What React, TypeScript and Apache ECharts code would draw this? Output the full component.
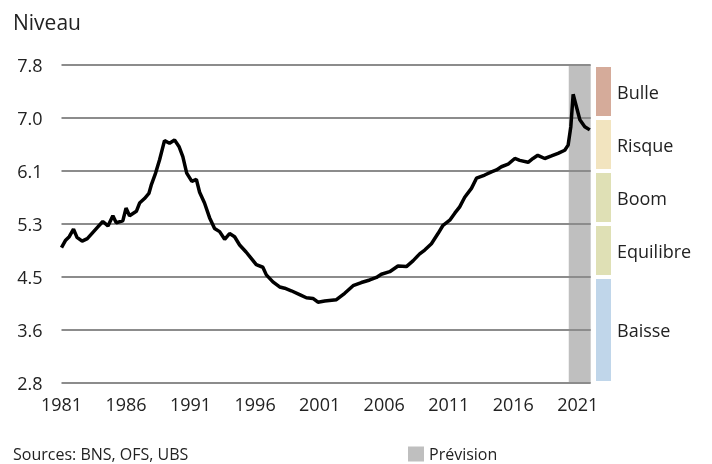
import React, { useEffect, useRef } from "react";
import * as echarts from "echarts";

// Line data (year, level)
const years = [
  1981.0, 1981.3, 1981.6, 1981.93, 1982.2, 1982.6, 1983.0, 1983.4, 1983.8, 1984.2,
  1984.6, 1984.98, 1985.24, 1985.75, 1986.0, 1986.27, 1986.8, 1987.05, 1987.43, 1987.77,
  1987.95, 1988.29, 1988.6, 1988.98, 1989.37, 1989.76, 1990.1, 1990.4, 1990.7, 1991.1,
  1991.45, 1991.7, 1992.08, 1992.47, 1992.86, 1993.25, 1993.64, 1994.02, 1994.41, 1994.8,
  1995.3, 1995.7, 1996.09, 1996.6, 1996.87, 1997.38, 1997.9, 1998.29, 1998.8, 1999.45,
  1999.97, 2000.48, 2000.87, 2001.39, 2002.3, 2002.94, 2003.59, 2004.23, 2004.88, 2005.4,
  2005.78, 2006.43, 2007.07, 2007.72, 2008.23, 2008.75, 2009.14, 2009.66, 2010.17, 2010.56,
  2011.08, 2011.47, 2011.85, 2012.24, 2012.76, 2013.15, 2013.79, 2014.31, 2014.7, 2015.08,
  2015.6, 2016.12, 2016.5, 2017.15, 2017.53, 2017.9, 2018.44, 2018.96, 2019.47, 2019.99,
  2020.25, 2020.46, 2020.64, 2020.9, 2021.16, 2021.54, 2021.93,
];
const values = [
  4.93, 5.04, 5.1, 5.22, 5.09, 5.03, 5.07, 5.16, 5.25, 5.34,
  5.27, 5.43, 5.32, 5.35, 5.55, 5.43, 5.5, 5.63, 5.7, 5.78,
  5.91, 6.1, 6.31, 6.61, 6.57, 6.62, 6.52, 6.36, 6.1, 5.97,
  6.0, 5.8, 5.63, 5.4, 5.23, 5.18, 5.06, 5.15, 5.1, 4.97,
  4.86, 4.76, 4.66, 4.62, 4.5, 4.39, 4.31, 4.29, 4.25, 4.19,
  4.14, 4.13, 4.07, 4.09, 4.11, 4.21, 4.33, 4.38, 4.42, 4.46,
  4.51, 4.55, 4.64, 4.63, 4.72, 4.83, 4.89, 4.99, 5.15, 5.28,
  5.36, 5.47, 5.57, 5.72, 5.86, 6.02, 6.07, 6.12, 6.15, 6.2,
  6.24, 6.33, 6.3, 6.27, 6.33, 6.38, 6.33, 6.37, 6.41, 6.46,
  6.54, 6.83, 7.34, 7.14, 6.94, 6.83, 6.78,
];

const xStart = 1981;
const xEnd = 2022;
const xStep = 5;
const forecastStart = 2020.3;

const yMin = 2.8;
const yMax = 7.8;
const tickLabels = ["2.8", "3.6", "4.5", "5.3", "6.1", "7.0", "7.8"];

const zoneNames = ["Baisse", "Equilibre", "Boom", "Risque", "Bulle"];
const zoneTicks = [0, 2, 3, 4, 5, 6]; // zone bounds, as tick indices
const zoneColors = ["#c0d6ea", "#dfe0b5", "#dfe0b5", "#f2e4bf", "#d5ab9a"];

const TXT = "#222222";
const FONT = "'Open Sans', 'Noto Sans', sans-serif";

export default function App() {
  const ref = useRef<HTMLDivElement>(null);

  useEffect(() => {
    if (!ref.current) return;
    const chart = echarts.init(ref.current, undefined, { renderer: "svg" });
    const nTicks = tickLabels.length - 1;
    const toY = (v: number) => ((v - yMin) / (yMax - yMin)) * nTicks;

    const lineData = years.map((yr, i) => [yr - xStart, toY(values[i])]);

    const zoneSeries = zoneNames.map((name, i) => ({
      name,
      type: "bar",
      stack: "zones",
      xAxisIndex: 1,
      yAxisIndex: 1,
      barWidth: 19,
      data: [zoneTicks[i + 1] - zoneTicks[i]],
      itemStyle: { color: zoneColors[i], borderColor: "#ffffff", borderWidth: 2 },
      label: {
        show: true,
        position: "right",
        distance: 4,
        formatter: "{a}",
        fontSize: 18,
        fontFamily: FONT,
        color: TXT,
      },
      silent: true,
    }));

    chart.setOption({
      animation: false,
      textStyle: { fontFamily: FONT },
      grid: [
        { left: 61.5, right: 121.3, top: 65, bottom: 81 },
        { left: 594, width: 19, top: 63, bottom: 81 },
      ],
      legend: {
        data: ["Prévision"],
        left: 403,
        top: 441,
        icon: "rect",
        itemWidth: 16,
        itemHeight: 15,
        itemGap: 6,
        textStyle: { fontSize: 16, color: TXT, fontFamily: FONT },
        selectedMode: false,
      },
      xAxis: [
        {
          type: "value",
          gridIndex: 0,
          min: 0,
          max: xEnd - xStart,
          interval: xStep,
          axisLine: { show: false },
          axisTick: { show: false },
          splitLine: { show: false },
          axisLabel: {
            fontSize: 18,
            color: TXT,
            margin: 12,
            fontFamily: FONT,
            formatter: (v: number) => (v % xStep === 0 ? String(xStart + v) : ""),
          },
        },
        {
          type: "category",
          gridIndex: 1,
          data: [""],
          show: false,
        },
      ],
      yAxis: [
        {
          type: "value",
          gridIndex: 0,
          min: 0,
          max: nTicks,
          interval: 1,
          z: 2,
          axisLine: { show: false },
          axisTick: { show: false },
          splitLine: { show: true, lineStyle: { color: "#8c8c8c", width: 2 } },
          axisLabel: {
            fontSize: 18,
            color: TXT,
            margin: 19,
            fontFamily: FONT,
            formatter: (v: number) => tickLabels[Math.round(v)] ?? "",
          },
        },
        {
          type: "value",
          gridIndex: 1,
          min: 0,
          max: nTicks + 2 / 53,
          show: false,
        },
      ],
      graphic: [
        {
          type: "text",
          left: 13,
          top: 11,
          style: { text: "Niveau", fontSize: 21, fontFamily: FONT, fill: TXT },
        },
        {
          type: "text",
          left: 13,
          top: 446,
          style: { text: "Sources: BNS, OFS, UBS", fontSize: 16, fontFamily: FONT, fill: TXT },
        },
      ],
      series: [
        {
          name: "Prévision",
          type: "line",
          z: 0,
          data: [],
          symbol: "none",
          color: "#bfbfbf",
          itemStyle: { color: "#bfbfbf" },
          markArea: {
            silent: true,
            z: 0,
            itemStyle: { color: "#bfbfbf" },
            data: [[{ xAxis: forecastStart - xStart }, { xAxis: xEnd - xStart }]],
          },
        },
        {
          name: "Niveau",
          type: "line",
          z: 3,
          data: lineData,
          symbol: "none",
          lineStyle: { color: "#000000", width: 3.5 },
          silent: true,
        },
        ...zoneSeries,
      ],
    });

    return () => chart.dispose();
  }, []);

  return (
    <div
      ref={ref}
      style={{ position: "fixed", left: 0, top: 0, width: 712, height: 464 }}
    />
  );
}
